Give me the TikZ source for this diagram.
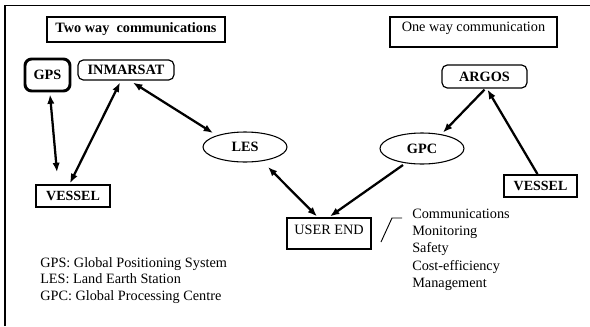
\documentclass[tikz,border=0pt]{standalone}
\usepackage{fontspec}
\setmainfont{Liberation Serif}
\usetikzlibrary{arrows.meta,calc,shapes.geometric}
\begin{document}
\begin{tikzpicture}[x=0.75pt,y=-0.75pt,
  every node/.style={font=\fontsize{10.7}{12.9}\selectfont, inner sep=0pt},
  titlebox/.style={draw, line width=0.8pt},
  rbox/.style={draw, rounded corners=4pt, line width=0.9pt, font=\fontsize{10.7}{12.9}\selectfont\bfseries},
  gpsbox/.style={draw, rounded corners=5pt, line width=2.2pt, font=\fontsize{10.7}{12.9}\selectfont\bfseries},
  vbox/.style={draw, line width=1.3pt, font=\fontsize{10.5}{12.9}\selectfont\bfseries},
  ell/.style={draw, ellipse, line width=0.8pt, font=\fontsize{10.7}{12.9}\selectfont\bfseries},
  ubox/.style={draw, line width=0.9pt},
  conn/.style={line width=1.7pt},
  tip/.style={-{Latex[length=7pt,width=5.5pt]}},
  tips/.style={{Latex[length=7pt,width=5.5pt]}-{Latex[length=7pt,width=5.5pt]}},
  txt/.style={anchor=base west}
]
\useasboundingbox (0,0) rectangle (590,326);
% frame (cut off at right and bottom)
\draw[line width=0.8pt] (5,326) -- (5,5.5) -- (590,5.5);

\node[titlebox, minimum width=133.5pt, minimum height=18.75pt, font=\fontsize{10.7}{12.9}\selectfont\bfseries] (two) at (136,29.5) {Two way~ communications};
\node[titlebox, minimum width=125.25pt, minimum height=22.5pt, text depth=8pt] (one) at (473.5,32) {One way communication};

\node[gpsbox, minimum width=33.75pt, minimum height=24pt] (gps) at (47.5,75) {GPS};
\node[rbox, minimum width=72pt, minimum height=15pt] (inm) at (126,70) {INMARSAT};
\node[rbox, minimum width=63.75pt, minimum height=17.25pt] (argos) at (484.5,76.5) {ARGOS};

\node[ell, minimum width=63pt, minimum height=22.5pt] (les) at (245,147) {LES};
\node[ell, minimum width=63pt, minimum height=23.25pt] (gpc) at (422,148.5) {GPC};

\node[vbox, minimum width=55.5pt, minimum height=16.5pt] (vl) at (73,196) {VESSEL};
\node[vbox, minimum width=54.75pt, minimum height=16.5pt] (vr) at (540.5,186) {VESSEL};

\node[ubox, minimum width=63pt, minimum height=23.25pt, text depth=5pt] (ue) at (329,233.5) {USER END};

% connectors
\draw[conn,tips] ($(gps.south)+(2.5,2)$) -- ($(vl.north)+(-16,-12)$);
\draw[conn,tips] ($(vl.north)+(-3,-1)$) -- ($(inm.south)+(-6,2)$);
\draw[conn,tips] ($(inm.south)+(7,2)$) -- ($(les.center)+(-32,-14)$);
\draw[conn,tips] ($(les.center)+(23,20)$) -- ($(ue.north)+(-12,-1)$);
\draw[conn,tip] ($(gpc.center)+(-19,16.5)$) -- ($(ue.north)+(1,-1)$);
\draw[conn,tip] ($(argos.south)+(0,1)$) -- ($(gpc.center)+(21,-16)$);
\draw[conn,tip] ($(vr.north)+(-3,0)$) -- ($(argos.south)+(3,1)$);

% bracket
\coordinate (s1) at (381,242);
\coordinate (s2) at (392,218);
\coordinate (s3) at (402,218);
\draw[line width=0.7pt] (s1) -- (s2) -- (s3);

% list
\node[txt] (l1) at (412,218) {Communications};
\node[txt] (l2) at (412,235) {Monitoring};
\node[txt] (l3) at (412,252.5) {Safety};
\node[txt] (l4) at (412,270) {Cost-efficiency};
\node[txt] (l5) at (412,287) {Management};

% legend
\node[txt] (g1) at (40,267) {GPS: Global Positioning System};
\node[txt] (g2) at (40,283) {LES: Land Earth Station};
\node[txt] (g3) at (40,300) {GPC: Global Processing Centre};
\end{tikzpicture}
\end{document}
